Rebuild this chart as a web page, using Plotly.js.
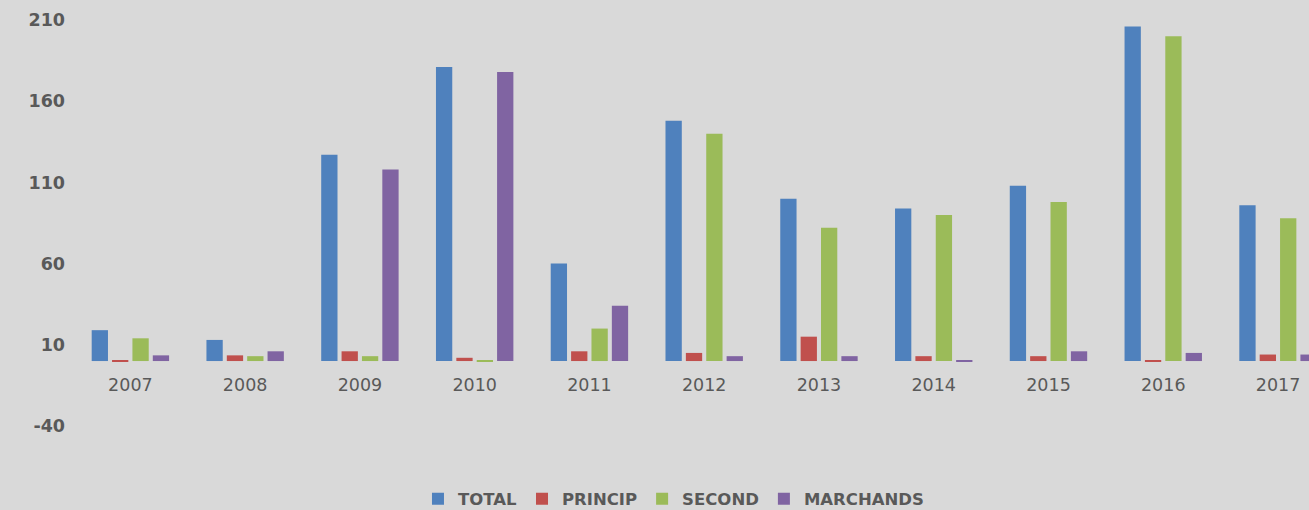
<!DOCTYPE html>
<html>
<head>
<meta charset="utf-8">
<script src="https://cdn.plot.ly/plotly-3.0.1.min.js"></script>
<style>html,body{margin:0;padding:0;background:#d9d9d9;}#chart{width:1309px;height:510px;}</style>
</head>
<body>
<div id="chart"></div>
<script>
const years = ["2007","2008","2009","2010","2011","2012","2013","2014","2015","2016","2017"];
const total     = [19, 13, 127, 181, 60, 148, 100, 94, 108, 206, 96];
const princip   = [0.5, 3.5, 6, 2, 6, 5, 15, 3, 3, 0.5, 4];
const second    = [14, 3, 3, 0.5, 20, 140, 82, 90, 98, 200, 88];
const marchands = [3.5, 6, 118, 178, 34, 3, 3, 0.5, 6, 5, 4];
const yTicks = [-40, 10, 60, 110, 160, 210];

const seriesNames = ["TOTAL", "PRINCIP", "SECOND", "MARCHANDS"];
const seriesColors = ["#4f81bd", "#c0504d", "#9bbb59", "#8064a2"];
const seriesData = [total, princip, second, marchands];

const traces = seriesData.map((d, i) => ({
  type: "bar",
  name: seriesNames[i],
  x: years,
  y: d,
  marker: {color: seriesColors[i]},
  hoverinfo: "x+y+name"
}));

const layout = {
  width: 1309, height: 510,
  paper_bgcolor: "#d9d9d9",
  plot_bgcolor: "#d9d9d9",
  margin: {l: 73, r: 0, t: 20, b: 84},
  barmode: "group",
  bargap: 0.29,
  bargroupgap: 0.2,
  showlegend: true,
  legend: {
    orientation: "h",
    x: 0.5145, xanchor: "center", xref: "container",
    y: 0.0215, yanchor: "middle", yref: "container",
    font: {family: "DejaVu Sans, sans-serif", size: 16.5, color: "#595959", weight: "bold"},
    bgcolor: "rgba(0,0,0,0)",
    itemclick: false
  },
  xaxis: {
    type: "category",
    range: [-0.5, 10.27],
    anchor: "free",
    position: 0.16,
    showgrid: false, zeroline: false, showline: false,
    ticks: "",
    ticklabelstandoff: 11,
    tickfont: {family: "DejaVu Sans, sans-serif", size: 17.5, color: "#595959"},
    fixedrange: true
  },
  yaxis: {
    range: [-40, 210],
    tickvals: yTicks,
    ticktext: yTicks.map(String),
    showgrid: false, zeroline: false, showline: false,
    ticks: "",
    ticklabelstandoff: 7,
    tickfont: {family: "DejaVu Sans, sans-serif", size: 17.5, color: "#595959", weight: "bold"},
    fixedrange: true
  }
};

Plotly.newPlot("chart", traces, layout, {displayModeBar: false});
</script>
</body>
</html>
